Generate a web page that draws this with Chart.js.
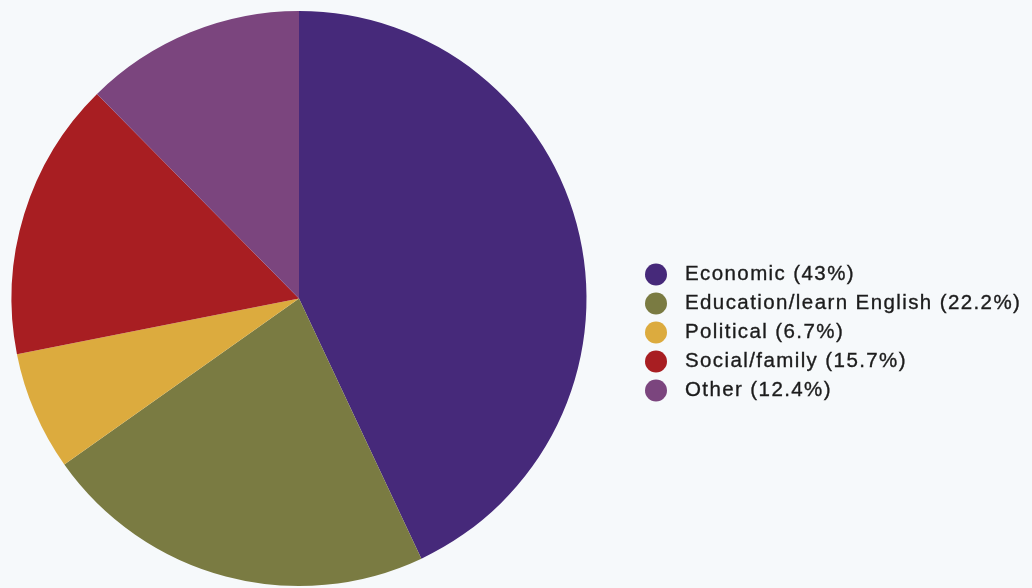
<!DOCTYPE html>
<html>
<head>
<meta charset="utf-8">
<script src="https://cdn.jsdelivr.net/npm/chart.js@4"></script>
<style>
  html, body { margin: 0; padding: 0; background: #f6f9fb; }
  #wrap { position: relative; width: 1032px; height: 588px; }
  canvas { display: block; }
</style>
</head>
<body>
<div id="wrap"><canvas id="c" width="1032" height="588"></canvas></div>
<script>
const categories = ["Economic", "Education/learn English", "Political", "Social/family", "Other"];
const shares = [43, 22.2, 6.7, 15.7, 12.4];
const colors = ["#46297a", "#7a7b42", "#dcab3e", "#a81e22", "#7b457e"];

const sideLegend = {
  id: 'sideLegend',
  afterDraw(chart, args, opts) {
    const ctx = chart.ctx;
    const ds = chart.data.datasets[0];
    ctx.save();
    ctx.font = opts.font;
    ctx.letterSpacing = opts.letterSpacing;
    ctx.textBaseline = 'middle';
    ctx.textAlign = 'left';
    chart.data.labels.forEach((lab, i) => {
      const y = opts.y0 + i * opts.pitch;
      ctx.beginPath();
      ctx.arc(opts.dotX, y + opts.dotDy, opts.dotR, 0, Math.PI * 2);
      ctx.fillStyle = ds.backgroundColor[i];
      ctx.fill();
      const txt = lab + ' (' + ds.data[i] + '%)';
      ctx.fillStyle = opts.color;
      ctx.strokeStyle = opts.color;
      ctx.lineWidth = opts.strokeW;
      ctx.fillText(txt, opts.textX, y + 1);
      ctx.strokeText(txt, opts.textX, y + 1);
    });
    ctx.restore();
  }
};

new Chart(document.getElementById('c'), {
  type: 'pie',
  data: {
    labels: categories,
    datasets: [{
      data: shares,
      backgroundColor: colors,
      borderWidth: 0
    }]
  },
  options: {
    responsive: false,
    animation: false,
    layout: { padding: { left: 11, top: 11, right: 445, bottom: 2 } },
    plugins: {
      legend: { display: false },
      tooltip: { enabled: false },
      sideLegend: {
        font: '20.5px "Liberation Sans", Arial, sans-serif',
        letterSpacing: '1.4px',
        color: '#1c1c1c',
        strokeW: 0.35,
        dotX: 656,
        dotDy: 1,
        dotR: 11,
        textX: 685,
        y0: 273.5,
        pitch: 29
      }
    }
  },
  plugins: [sideLegend]
});
</script>
</body>
</html>
